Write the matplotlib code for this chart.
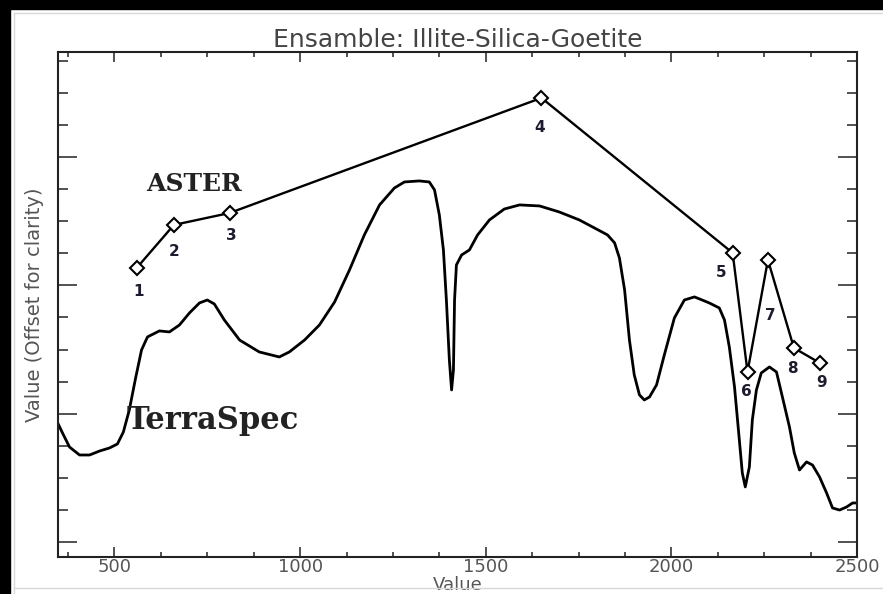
import numpy as np
import matplotlib
matplotlib.use('Agg')
import matplotlib.pyplot as plt
from matplotlib.ticker import MultipleLocator
from matplotlib.patches import Rectangle
from matplotlib.lines import Line2D

# TerraSpec spectrum (wavelength, offset value)
terra_wl = [346, 360, 379, 406, 433, 460, 487, 508, 524, 540, 557, 573, 589,
            621, 648, 675, 702, 729, 750, 769, 796, 837, 890, 944, 971, 1012,
            1052, 1093, 1133, 1173, 1214, 1254, 1281, 1321, 1348, 1362, 1375,
            1386, 1394, 1402, 1408, 1413, 1416, 1421, 1435, 1456, 1478, 1510,
            1550, 1591, 1645, 1698, 1752, 1793, 1828, 1847, 1860, 1874, 1887,
            1900, 1914, 1927, 1941, 1960, 1981, 2008, 2035, 2062, 2076, 2102,
            2129, 2143, 2156, 2170, 2183, 2191, 2199, 2210, 2218, 2229, 2242,
            2264, 2283, 2299, 2318, 2331, 2345, 2364, 2380, 2399, 2418, 2434,
            2453, 2472, 2488, 2500]
terra_val = [0.935, 0.850, 0.740, 0.678, 0.678, 0.709, 0.733, 0.764, 0.857,
             1.029, 1.278, 1.497, 1.598, 1.645, 1.637, 1.691, 1.785, 1.863,
             1.886, 1.855, 1.730, 1.574, 1.481, 1.442, 1.481, 1.574, 1.691,
             1.871, 2.120, 2.393, 2.627, 2.759, 2.806, 2.814, 2.806, 2.744,
             2.549, 2.276, 1.886, 1.419, 1.185, 1.341, 1.886, 2.159, 2.237,
             2.276, 2.393, 2.510, 2.595, 2.627, 2.619, 2.572, 2.510, 2.447,
             2.393, 2.331, 2.214, 1.964, 1.574, 1.302, 1.146, 1.107, 1.130,
             1.224, 1.458, 1.746, 1.886, 1.910, 1.894, 1.863, 1.824, 1.730,
             1.520, 1.208, 0.795, 0.538, 0.429, 0.585, 0.951, 1.185, 1.317,
             1.364, 1.325, 1.130, 0.896, 0.694, 0.561, 0.624, 0.600, 0.507,
             0.382, 0.265, 0.249, 0.273, 0.304, 0.304]

# ASTER resampled bands
aster_wl = [560, 660, 810, 1650, 2165, 2205, 2260, 2330, 2400]
aster_val = [2.136, 2.471, 2.564, 3.461, 2.253, 1.325, 2.198, 1.512, 1.395]
aster_bands = ['1', '2', '3', '4', '5', '6', '7', '8', '9']
# label offsets in points (dx, dy) relative to each band marker
band_offsets = [(1, -17), (0, -19), (1, -16), (-1, -21), (-8, -14),
                (-1, -14), (2, -40), (-1, -15), (1, -14)]

fig = plt.figure(figsize=(8.83, 5.94), dpi=100)
ax = fig.add_axes([0.0657, 0.0623, 0.9049, 0.8502])

ax.plot(terra_wl, terra_val, color='black', lw=2.0, solid_joinstyle='round')
ax.plot(aster_wl, aster_val, color='black', lw=1.7, marker='D', ms=7,
        mfc='white', mec='black', mew=1.5)

for wl, v, lab, off in zip(aster_wl, aster_val, aster_bands, band_offsets):
    ax.annotate(lab, (wl, v), xytext=off, textcoords='offset points',
                ha='center', va='center', fontsize=11, fontweight='bold',
                color='#1c1c2e')

ax.text(715, 2.79, 'ASTER', fontsize=18, fontweight='bold',
        family='DejaVu Serif', color='#222222', ha='center', va='center')
ax.text(764, 0.95, 'TerraSpec', fontsize=22, fontweight='bold',
        family='DejaVu Serif', color='#222222', ha='center', va='center')

ax.set_xlim(348, 2500)
ax.set_ylim(-0.117, 3.819)
ax.xaxis.set_major_locator(MultipleLocator(500))
ax.xaxis.set_minor_locator(MultipleLocator(125))
ax.yaxis.set_major_locator(MultipleLocator(1))
ax.yaxis.set_minor_locator(MultipleLocator(0.25))
ax.tick_params(which='both', direction='in', top=True, right=True,
               width=1.2, colors='#333333', labelcolor='#555555')
ax.tick_params(axis='x', which='major', length=7, labelsize=13, pad=1)
ax.tick_params(axis='x', which='minor', length=3.6)
ax.tick_params(axis='y', which='major', length=14, labelleft=False)
ax.tick_params(axis='y', which='minor', length=7)
for s in ax.spines.values():
    s.set_linewidth(1.5)
    s.set_color('#222222')

ax.set_xlabel('Value', fontsize=13, color='#555555', labelpad=0)
ax.set_ylabel('Value (Offset for clarity)', fontsize=14, color='#555555',
              labelpad=7)
ax.set_title('Ensamble: Illite-Silica-Goetite', fontsize=18, color='#444444',
             pad=1)

# picture frame around the figure
fig.patches.append(Rectangle((0, 0), 10 / 883, 1, transform=fig.transFigure,
                             color='black', zorder=0))
fig.patches.append(Rectangle((0, 1 - 9 / 594), 1, 9 / 594,
                             transform=fig.transFigure, color='black', zorder=0))
fig.lines.append(Line2D([14 / 883, 14 / 883], [0, 1 - 13 / 594],
                        transform=fig.transFigure, color='#d8d8d8', lw=1))
fig.lines.append(Line2D([14 / 883, 1], [1 - 13 / 594, 1 - 13 / 594],
                        transform=fig.transFigure, color='#d8d8d8', lw=1))
fig.lines.append(Line2D([14 / 883, 1], [6 / 594, 6 / 594],
                        transform=fig.transFigure, color='#d8d8d8', lw=1))

fig.savefig('out.png', dpi=100)
